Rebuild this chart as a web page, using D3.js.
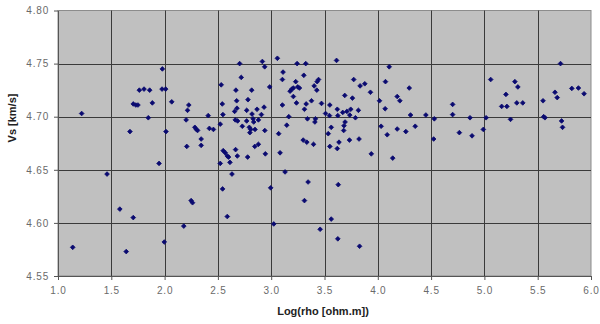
<!DOCTYPE html>
<html>
<head>
<meta charset="utf-8">
<script src="https://cdn.jsdelivr.net/npm/d3@7/dist/d3.min.js"></script>
<style>
  html, body { margin: 0; padding: 0; background: #fff; }
  svg { display: block; }
  text { font-family: "Liberation Sans", Arial, sans-serif; }
</style>
</head>
<body>
<svg id="chart" width="600" height="324"></svg>
<script>
// ---- data ----
const xTicks = [1.0, 1.5, 2.0, 2.5, 3.0, 3.5, 4.0, 4.5, 5.0, 5.5, 6.0];
const yTicks = [4.55, 4.60, 4.65, 4.70, 4.75, 4.80];
const xTitle = "Log(rho [ohm.m])";
const yTitle = "Vs [km/s]";

const logRho = [
  1.138,1.222,1.46,1.58,1.64,1.706,1.675,1.706,1.73,1.75,1.763,1.807,1.86,1.847,1.885,1.948,1.979,1.976,2.01,2.013,1.997,2.067,
  2.704,2.917,2.939,3.058,3.243,3.324,3.613,2.719,3.111,3.105,3.306,3.230,3.193,3.177,3.208,3.249,3.265,3.444,3.431,3.403,3.428,
  2.531,2.986,2.669,2.817,3.208,2.227,2.215,2.676,2.782,2.541,2.679,2.657,2.770,2.867,2.933,3.237,3.378,3.328,3.312,3.105,3.472,
  3.550,3.620,2.547,2.820,2.908,2.409,2.202,2.663,2.685,2.770,2.830,2.880,2.836,3.165,3.340,3.415,3.410,3.510,3.547,3.625,2.522,
  2.284,2.299,2.309,2.420,2.458,2.729,2.795,2.808,2.848,2.800,2.940,3.146,3.563,3.070,3.535,2.343,2.343,3.300,3.334,3.397,2.208,
  2.880,2.846,2.945,3.550,3.620,2.550,2.569,2.588,2.600,2.666,2.682,2.779,3.083,
  2.522,2.613,2.632,3.130,3.346,2.544,2.995,2.249,2.262,3.312,2.588,2.180,3.024,3.563,3.459,3.625,3.629,
  3.939,4.140,3.829,
  4.107,3.774,3.834,3.878,4.072,3.931,4.295,3.690,3.762,4.016,4.182,4.207,4.069,3.671,3.710,3.746,3.818,3.737,3.790,4.307,4.451,
  4.530,4.702,4.702,4.865,5.016,3.693,3.683,3.680,4.031,4.182,4.263,4.351,4.088,3.734,3.824,3.636,4.524,4.765,4.884,4.990,
  5.714,5.059,5.286,5.314,5.202,5.162,5.211,5.304,5.360,5.662,5.683,5.820,5.882,5.935,5.550,5.556,5.568,5.245,5.724,5.733
];
const vs = [
  4.577,4.703,4.646,4.613,4.573,4.605,4.686,4.712,4.711,4.711,4.725,4.726,4.725,4.699,4.713,4.656,4.745,4.726,4.726,4.686,4.582,4.714,
  4.750,4.752,4.747,4.755,4.750,4.750,4.753,4.737,4.742,4.735,4.739,4.733,4.726,4.724,4.727,4.728,4.727,4.735,4.733,4.729,4.725,
  4.730,4.728,4.725,4.725,4.719,4.711,4.706,4.715,4.716,4.712,4.708,4.705,4.706,4.707,4.709,4.713,4.715,4.712,4.707,4.711,4.7125,
  4.711,4.707,4.702,4.7025,4.702,4.701,4.697,4.697,4.696,4.696,4.698,4.697,4.695,4.700,4.698,4.698,4.695,4.703,4.701,4.701,4.693,
  4.690,4.688,4.687,4.689,4.688,4.691,4.690,4.688,4.688,4.685,4.687,4.692,4.690,4.684,4.684,4.679,4.673,4.678,4.676,4.674,4.672,
  4.674,4.672,4.665,4.672,4.670,4.668,4.666,4.663,4.662,4.669,4.663,4.662,4.666,
  4.656,4.657,4.646,4.648,4.6385,4.632,4.633,4.621,4.619,4.621,4.606,4.597,4.599,4.6036,4.594,4.585,4.636,
  4.665,4.661,4.578,
  4.747,4.735,4.729,4.731,4.733,4.723,4.727,4.720,4.7175,4.715,4.719,4.715,4.7075,4.704,4.705,4.707,4.706,4.7015,4.699,4.7016,4.7016,
  4.698,4.7116,4.702,4.699,4.699,4.695,4.6915,4.687,4.691,4.6884,4.686,4.691,4.683,4.678,4.679,4.676,4.679,4.685,4.682,4.688,
  4.750,4.735,4.733,4.728,4.721,4.7097,4.7097,4.713,4.713,4.723,4.718,4.7266,4.727,4.7216,4.715,4.700,4.699,4.6975,4.696,4.690
];

// ---- layout ----
const svg = d3.select("#chart");
const L = 58, R = 591, T = 10.5, B = 276;

const x = d3.scaleLinear().domain([1.0, 6.0]).range([L, R]);
const y = d3.scaleLinear().domain([4.55, 4.80]).range([B, T]);

// plot area
svg.append("rect")
  .attr("x", L).attr("y", T)
  .attr("width", R - L).attr("height", B - T)
  .attr("fill", "#c0c0c0")
  .attr("stroke", "#8c8c8c").attr("stroke-width", 1);

// gridlines
svg.append("g").selectAll("line.vg").data(xTicks.slice(1, -1)).join("line")
  .attr("x1", d => Math.round(x(d)) + 0.5).attr("x2", d => Math.round(x(d)) + 0.5)
  .attr("y1", T).attr("y2", B)
  .attr("stroke", "#3a3a3a").attr("stroke-width", 1);
svg.append("g").selectAll("line.hg").data(yTicks.slice(1, -1)).join("line")
  .attr("x1", L).attr("x2", R)
  .attr("y1", d => Math.round(y(d)) + 0.5).attr("y2", d => Math.round(y(d)) + 0.5)
  .attr("stroke", "#3a3a3a").attr("stroke-width", 1);

// axes
const xAxis = d3.axisBottom(x).tickValues(xTicks).tickFormat(d3.format(".1f")).tickSize(4).tickSizeOuter(0);
const yAxis = d3.axisLeft(y).tickValues(yTicks).tickFormat(d3.format(".2f")).tickSize(4).tickSizeOuter(0);

const gx = svg.append("g").attr("transform", `translate(0,${B})`).call(xAxis);
const gy = svg.append("g").attr("transform", `translate(${L},0)`).call(yAxis);

[gx, gy].forEach(g => {
  g.select(".domain").attr("stroke", "#555").attr("stroke-width", 1);
  g.selectAll(".tick line").attr("stroke", "#555");
  g.selectAll(".tick text")
    .attr("fill", "#6a6a6a")
    .style("font-size", "10px")
    .style("letter-spacing", "0.8px");
});
gx.selectAll(".tick text").attr("dy", "1.05em");
gy.selectAll(".tick text").attr("x", -9);

// points (diamonds)
const pts = logRho.map((v, i) => [v, vs[i]]);
svg.append("g").selectAll("path").data(pts).join("path")
  .attr("transform", d => `translate(${x(d[0])},${y(d[1])})`)
  .attr("d", d3.symbol().type(d3.symbolDiamond2).size(14))
  .attr("fill", "#0a0a70").attr("stroke", "#0a0a70").attr("stroke-width", 0.8);

// titles
svg.append("text")
  .attr("x", 323).attr("y", 315)
  .attr("text-anchor", "middle")
  .attr("fill", "#222")
  .style("font-size", "11px").style("font-weight", "bold")
  .text(xTitle);

svg.append("text")
  .attr("transform", "translate(16,118) rotate(-90)")
  .attr("text-anchor", "middle")
  .attr("fill", "#222")
  .style("font-size", "11px").style("font-weight", "bold")
  .text(yTitle);
</script>
</body>
</html>
